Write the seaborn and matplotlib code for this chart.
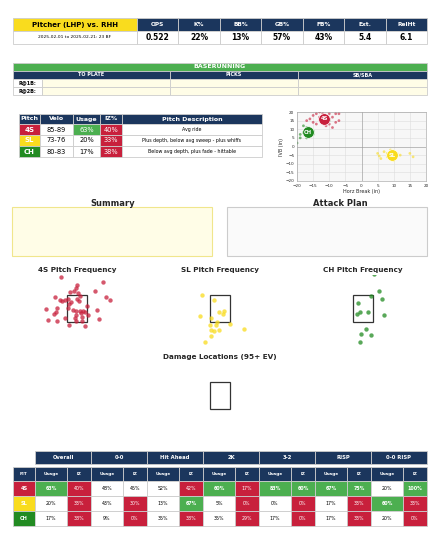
import numpy as np
import pandas as pd
import seaborn as sns
import matplotlib
matplotlib.use('Agg')
import matplotlib.pyplot as plt
from matplotlib.patches import Rectangle

sns.set_style("white")
plt.rcParams['font.family'] = ['DejaVu Sans']

NAVY = "#1b365d"
RED = "#c8203c"
YEL = "#f9dc1e"
GRN = "#4caf50"
DKGRN = "#228b22"
CREAM = "#fffde7"
pitch_cols = {"4S": RED, "SL": YEL, "CH": DKGRN}

# ---- data ----
top_headers = ["OPS", "K%", "BB%", "GB%", "FB%", "Ext.", "RelHt"]
top_values = ["0.522", "22%", "13%", "57%", "43%", "5.4", "6.1"]
top_title = "Pitcher (LHP) vs. RHH"
top_sub = "2025-02-01 to 2025-02-21: 23 BF"

br_headers = ["TO PLATE", "PICKS", "SB/SBA"]
br_rows = ["R@1B:", "R@2B:"]

pitches = ["4S", "SL", "CH"]
velo = ["85-89", "73-76", "80-83"]
usage = [63, 20, 17]
iz = [40, 33, 38]
desc = ["Avg ride", "Plus depth, below avg sweep - plus whiffs",
        "Below avg depth, plus fade - hittable"]

mv_4s_x = [-15, -14, -12, -10, -8, -7, -11, -13, -16, -17, -12, -10, -9, -8, -7, -11, -9, -14, -15, -13, -12, -10]
mv_4s_y = [18, 19, 19, 19, 19, 19, 17, 17, 16, 15, 14, 16, 17, 14, 15, 12, 11, 13, 14, 20, 16, 13]
mv_ch_x = [-20, -19, -19, -18, -17, -16, -15, -17, -18, -10, -15]
mv_ch_y = [2, 5, 7, 8, 5, 10, 9, 11, 12, 15, 7]
mv_sl_x = [5, 5.5, 6, 7, 8, 9, 10, 10, 11, 12, 15, 16, 8]
mv_sl_y = [-4, -5.5, -7, -3, -4, -2, -6, -8, -4, -5, -4, -6, -6]

loc_4s_x = [-1.31, 2.19, 0.03, -0.11, 1.47, -0.61, -0.28, 0.08, -1.81, 0.22, 2.39, -1.44, -1.22, -1.0, -0.72,
            0.0, 2.78, -0.64, -0.53, 0.14, 0.86, -2.56, -1.67, -0.75, 1.67, -0.33, -0.11, 0.22, 0.69, -1.92,
            -1.72, -0.06, 0.92, 0.42, -0.19, -1.03, -2.42, -1.67, -0.06, 0.44, 1.83, -0.69, 0.69, 0.31, 0.5]
loc_4s_z = [4.77, 4.40, 4.18, 3.99, 3.74, 3.70, 3.79, 3.62, 3.35, 3.38, 3.30, 3.09, 3.06, 3.09, 3.21,
            3.18, 3.09, 2.82, 2.94, 3.01, 2.65, 2.45, 2.52, 2.52, 2.40, 2.35, 2.28, 2.33, 2.23, 2.11,
            2.21, 2.04, 2.04, 1.84, 1.79, 1.79, 1.62, 1.55, 1.60, 1.55, 1.72, 1.26, 1.18, 2.16, 2.28]
loc_sl_x = [-1.53, -0.47, 0.33, -0.11, 0.22, -1.67, -0.75, -0.22, -0.83, -0.33, 0.83, 2.0, -0.78, -0.47, -0.08, -0.78, -1.25]
loc_sl_z = [3.48, 3.13, 2.33, 2.21, 2.11, 1.91, 1.79, 1.48, 1.30, 1.30, 1.35, 0.96, 0.91, 0.87, 0.94, 0.50, 0.06]
loc_ch_x = [0.94, 1.36, 0.67, 1.56, -0.44, -0.28, 0.42, -0.47, 1.72, 0.25, -0.19, 0.64, -0.28]
loc_ch_z = [5.01, 3.79, 3.38, 3.18, 2.89, 2.23, 2.21, 2.06, 1.99, 1.01, 0.62, 0.55, 0.01]

sit_groups = ["Overall", "0-0", "Hit Ahead", "2K", "3-2", "RISP", "0-0 RISP"]
sit_usage = {"4S": [63, 48, 52, 60, 83, 67, 20],
             "SL": [20, 43, 13, 5, 0, 17, 60],
             "CH": [17, 9, 35, 35, 17, 17, 20]}
sit_iz = {"4S": [40, 45, 42, 17, 60, 75, 100],
          "SL": [33, 30, 67, 0, 0, 33, 33],
          "CH": [38, 0, 38, 29, 0, 33, 0]}


def usage_col(v):
    return GRN if v >= 60 else "white"


def iz_col(v):
    if v >= 60:
        return GRN
    return "white" if v >= 45 else RED


fig = plt.figure(figsize=(4.4, 5.6), dpi=100)
bg = fig.add_axes([0, 0, 1, 1])
bg.set_xlim(0, 440)
bg.set_ylim(560, 0)
bg.axis("off")


def cell(x0, y0, x1, y1, fc, text="", tc="black", fs=4, bold=False, ec="#cccccc"):
    bg.add_patch(Rectangle((x0, y0), x1 - x0, y1 - y0, facecolor=fc, edgecolor=ec, lw=0.6))
    if text:
        bg.text((x0 + x1) / 2, (y0 + y1) / 2, text, ha="center", va="center", color=tc,
                fontsize=fs, fontweight="bold" if bold else "normal")


# top table
cell(13, 18, 137, 31, YEL, top_title, fs=5, bold=True)
cell(13, 31, 137, 44, "white", top_sub, fs=3.2)
w = (427 - 137) / len(top_headers)
for i, (h, v) in enumerate(zip(top_headers, top_values)):
    x0 = 137 + i * w
    cell(x0, 18, x0 + w, 31, NAVY, h, tc="white", fs=4.2, bold=True)
    cell(x0, 31, x0 + w, 44, "white", v, fs=5.5, bold=True)

# baserunning
cell(13, 63, 427, 71, GRN, "BASERUNNING", tc="white", fs=4.5, bold=True)
br_x = [13, 170, 298, 427]
for i, h in enumerate(br_headers):
    cell(br_x[i], 71, br_x[i + 1], 79, NAVY, h, tc="white", fs=3.5, bold=True)
for r, lab in enumerate(br_rows):
    y0 = 79 + r * 8
    cell(13, y0, 42, y0 + 8, "white", lab, fs=3.5, bold=True)
    cell(42, y0, 170, y0 + 8, CREAM)
    cell(170, y0, 298, y0 + 8, CREAM)
    cell(298, y0, 427, y0 + 8, CREAM)

# pitch table
px = [19, 40, 73, 100, 122, 262]
for i, h in enumerate(["Pitch", "Velo", "Usage", "IZ%", "Pitch Description"]):
    cell(px[i], 114, px[i + 1], 124, NAVY, h, tc="white", fs=4.5, bold=True)
for r, p in enumerate(pitches):
    y0 = 124 + r * 11
    y1 = y0 + 11
    cell(px[0], y0, px[1], y1, pitch_cols[p], p, tc="white", fs=5, bold=True)
    cell(px[1], y0, px[2], y1, "white", velo[r], fs=4.8)
    cell(px[2], y0, px[3], y1, usage_col(usage[r]), f"{usage[r]}%",
         tc="white" if usage[r] >= 60 else "black", fs=4.8)
    cell(px[3], y0, px[4], y1, iz_col(iz[r]), f"{iz[r]}%", tc="white", fs=4.8)
    cell(px[4], y0, px[5], y1, "white", desc[r], fs=3.4)

# summary / attack plan
bg.text(113, 203, "Summary", ha="center", va="center", fontsize=6, fontweight="bold")
bg.add_patch(Rectangle((12, 207), 200, 49, facecolor=CREAM, edgecolor="#f0e68c", lw=0.8))
bg.text(340, 203, "Attack Plan", ha="center", va="center", fontsize=6, fontweight="bold")
bg.add_patch(Rectangle((227, 207), 200, 49, facecolor="#fafafa", edgecolor="#cccccc", lw=0.8))

# situational table
gw = (427 - 35) / len(sit_groups)
for g, name in enumerate(sit_groups):
    x0 = 35 + g * gw
    cell(x0, 451, x0 + gw, 464, NAVY, name, tc="white", fs=3.8, bold=True)
    cell(x0, 467, x0 + gw * 0.57, 481, NAVY, "Usage", tc="white", fs=3.2, bold=True)
    cell(x0 + gw * 0.57, 467, x0 + gw, 481, NAVY, "IZ", tc="white", fs=3.2, bold=True)
cell(13, 467, 35, 481, NAVY, "PIT", tc="white", fs=3.2, bold=True)
for r, p in enumerate(pitches):
    y0 = 481 + r * 15
    y1 = y0 + 15
    cell(13, y0, 35, y1, pitch_cols[p], p, tc="white", fs=3.6, bold=True)
    for g in range(len(sit_groups)):
        x0 = 35 + g * gw
        u = sit_usage[p][g]
        z = sit_iz[p][g]
        cell(x0, y0, x0 + gw * 0.57, y1, usage_col(u), f"{u}%",
             tc="white" if u >= 60 else "black", fs=3.4, bold=u >= 60)
        cell(x0 + gw * 0.57, y0, x0 + gw, y1, iz_col(z), f"{z}%",
             tc="black" if iz_col(z) == "white" else "white", fs=3.4, bold=z >= 60)

# movement plot
mv = pd.DataFrame({
    "hb": mv_4s_x + mv_sl_x + mv_ch_x,
    "ivb": mv_4s_y + mv_sl_y + mv_ch_y,
    "pitch": ["4S"] * len(mv_4s_x) + ["SL"] * len(mv_sl_x) + ["CH"] * len(mv_ch_x),
})
ax = fig.add_axes([297 / 440, 1 - 181 / 560, 129 / 440, 69 / 560])
ax.set_facecolor("#f7f7f7")
ax.grid(True, color="#dddddd", lw=0.4)
ax.axhline(0, color="#999999", lw=0.4)
ax.axvline(0, color="#999999", lw=0.4)
sns.scatterplot(data=mv, x="hb", y="ivb", hue="pitch", palette=pitch_cols, s=4, alpha=0.6,
                linewidth=0, legend=False, ax=ax)
means = mv.groupby("pitch")[["hb", "ivb"]].mean()
for p in pitches:
    ax.scatter(means.loc[p, "hb"], means.loc[p, "ivb"], s=70, color=pitch_cols[p],
               edgecolor="white", lw=0.5, zorder=5)
    ax.text(means.loc[p, "hb"], means.loc[p, "ivb"], p, ha="center", va="center",
            fontsize=3.8, color="white", fontweight="bold", zorder=6)
ax.set_xlim(-20, 20)
ax.set_ylim(-20, 20)
ax.set_xticks(range(-20, 21, 5))
ax.set_yticks(range(-20, 21, 5))
ax.tick_params(labelsize=3, length=1, pad=1)
ax.set_xlabel("Horz Break (in)", fontsize=3.5, labelpad=1)
ax.set_ylabel("IVB (in)", fontsize=3.5, labelpad=1)
for s in ax.spines.values():
    s.set_linewidth(0.4)
    s.set_color("#999999")


# location plots
def loc_axes(cx, top_px, title, xs=None, zs=None, color=None):
    a = fig.add_axes([(cx - 45) / 440, 1 - (top_px + 75) / 560, 90 / 440, 75 / 560])
    a.set_xlim(-3.75, 3.75)
    a.set_ylim(-0.54, 4.93)
    a.axis("off")
    a.add_patch(Rectangle((-0.83, 1.5), 1.66, 2.0, fill=False, edgecolor="#333333", lw=0.9))
    if xs is not None:
        sns.scatterplot(x=xs, y=zs, color=color, s=10, alpha=0.75, linewidth=0, ax=a)
    bg.text(cx, top_px - 5, title, ha="center", va="center", fontsize=5.2, fontweight="bold")
    return a


loc_axes(77, 275, "4S Pitch Frequency", loc_4s_x, loc_4s_z, RED)
loc_axes(220, 275, "SL Pitch Frequency", loc_sl_x, loc_sl_z, YEL)
loc_axes(363, 275, "CH Pitch Frequency", loc_ch_x, loc_ch_z, DKGRN)
loc_axes(220, 362, "Damage Locations (95+ EV)")

fig.savefig("out.png", dpi=100)
